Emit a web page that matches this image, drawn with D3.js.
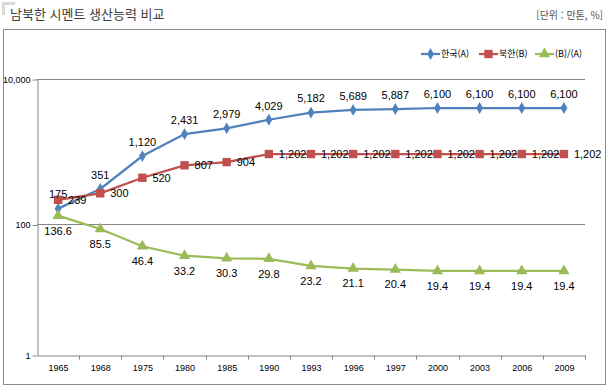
<!DOCTYPE html>
<html lang="ko">
<head>
  <meta charset="UTF-8" />
  <title>남북한 시멘트 생산능력 비교</title>
  <script src="https://d3js.org/d3.v7.min.js"></script>
  <style>
    body { margin: 0; background: #fff; }
    text { font-family: "Liberation Sans", "Noto Sans CJK KR", sans-serif; }
    .kr { font-family: "Noto Sans CJK KR", sans-serif; }
  </style>
</head>
<body>
<script>
  // data
  const years = ["1965", "1968", "1975", "1980", "1985", "1990", "1993", "1996", "1997", "2000", "2003", "2006", "2009"];
  const south = [175, 351, 1120, 2431, 2979, 4029, 5182, 5689, 5887, 6100, 6100, 6100, 6100];
  const north = [239, 300, 520, 807, 904, 1202, 1202, 1202, 1202, 1202, 1202, 1202, 1202];
  const ratio = [136.6, 85.5, 46.4, 33.2, 30.3, 29.8, 23.2, 21.1, 20.4, 19.4, 19.4, 19.4, 19.4];
  const yTicks = [1, 100, 10000];
  const seriesNames = ["한국(A)", "북한(B)", "(B)/(A)"];

  const W = 608, H = 389;
  const plot = { left: 37, right: 585, top: 79, bottom: 355 };

  const svg = d3.select("body").append("svg")
    .attr("width", W)
    .attr("height", H);

  // title area
  svg.append("path")
    .attr("d", "M2,15 V2 H15 V5 H5 V15 Z")
    .attr("fill", "#d9d9d9");
  svg.append("text")
    .attr("class", "kr")
    .attr("x", 10).attr("y", 19)
    .attr("font-size", 13)
    .attr("fill", "#3a3a3a")
    .text("남북한 시멘트 생산능력 비교");
  svg.append("text")
    .attr("class", "kr")
    .attr("x", 603).attr("y", 19)
    .attr("text-anchor", "end")
    .attr("font-size", 10)
    .attr("fill", "#555")
    .text("[단위 : 만톤, %]");

  // chart frame
  svg.append("rect")
    .attr("x", 3.5).attr("y", 29.5)
    .attr("width", 602).attr("height", 355)
    .attr("fill", "none")
    .attr("stroke", "#8c8c8c");

  const x = d3.scaleBand()
    .domain(years)
    .range([plot.left, plot.right])
    .padding(0);

  // log axis, stretched the way the original plot is
  const y = d3.scaleLog()
    .domain([1, 6100, 10000])
    .range([plot.bottom, 108, plot.top]);

  // gridlines
  svg.append("g")
    .selectAll("line")
    .data(yTicks.slice(1))
    .enter()
    .append("line")
    .attr("x1", plot.left).attr("x2", plot.right)
    .attr("y1", d => Math.round(y(d)) + 0.5)
    .attr("y2", d => Math.round(y(d)) + 0.5)
    .attr("stroke", "#868686");

  const yAxis = svg.append("g")
    .attr("transform", "translate(" + (plot.left + 0.5) + ",0.5)")
    .call(d3.axisLeft(y).tickValues(yTicks).tickFormat(d3.format(",")).tickSize(5).tickSizeOuter(0));
  yAxis.selectAll("text").attr("font-size", 9).attr("fill", "#000").attr("x", -7);

  const xAxis = svg.append("g")
    .attr("transform", "translate(0.5," + (plot.bottom + 0.5) + ")")
    .call(d3.axisBottom(x).tickSize(0).tickSizeOuter(0));
  xAxis.selectAll("text").attr("font-size", 9).attr("fill", "#000").attr("dy", "1.35em");
  // ticks between categories
  xAxis.selectAll(".sep")
    .data(years)
    .enter()
    .append("line")
    .attr("x1", d => Math.round(x(d) + x.bandwidth()))
    .attr("x2", d => Math.round(x(d) + x.bandwidth()))
    .attr("y1", 0).attr("y2", 4)
    .attr("stroke", "#868686");
  svg.selectAll(".domain").attr("stroke", "#868686");
  svg.selectAll(".tick line").attr("stroke", "#868686");

  const cx = d => x(d) + x.bandwidth() / 2;
  const colors = ["#4f81bd", "#c0504d", "#9bbb59"];
  const allSeries = [south, north, ratio];

  const line = d3.line()
    .x((d, i) => cx(years[i]))
    .y(d => y(d));

  allSeries.forEach(function (vals, k) {
    svg.append("path")
      .datum(vals)
      .attr("d", line)
      .attr("fill", "none")
      .attr("stroke", colors[k])
      .attr("stroke-width", 2.25);
  });

  const symbols = [
    d3.symbol().type(d3.symbolDiamond).size(40),
    d3.symbol().type(d3.symbolSquare).size(70),
    d3.symbol().type(d3.symbolTriangle).size(55)
  ];

  allSeries.forEach(function (vals, k) {
    svg.append("g")
      .selectAll("path")
      .data(vals)
      .enter()
      .append("path")
      .attr("d", symbols[k])
      .attr("transform", (d, i) => "translate(" + cx(years[i]) + "," + y(d) + ")")
      .attr("fill", colors[k]);
  });

  // data labels
  const fmt = d3.format(",");
  svg.append("g")
    .selectAll("text")
    .data(south)
    .enter()
    .append("text")
    .attr("x", (d, i) => cx(years[i]))
    .attr("y", d => y(d) - 14)
    .attr("dy", "0.35em")
    .attr("text-anchor", "middle")
    .attr("font-size", 11)
    .text(d => fmt(d));

  svg.append("g")
    .selectAll("text")
    .data(north)
    .enter()
    .append("text")
    .attr("x", (d, i) => cx(years[i]) + 10)
    .attr("y", d => y(d))
    .attr("dy", "0.35em")
    .attr("font-size", 11)
    .text(d => fmt(d));

  svg.append("g")
    .selectAll("text")
    .data(ratio)
    .enter()
    .append("text")
    .attr("x", (d, i) => cx(years[i]))
    .attr("y", d => y(d) + 15)
    .attr("dy", "0.35em")
    .attr("text-anchor", "middle")
    .attr("font-size", 11)
    .text(d => d3.format(".1f")(d));

  // legend
  const legendX = [421, 479, 535];
  const legend = svg.append("g").attr("transform", "translate(0,54)");
  seriesNames.forEach(function (name, k) {
    legend.append("line")
      .attr("x1", legendX[k]).attr("x2", legendX[k] + 19)
      .attr("stroke", colors[k])
      .attr("stroke-width", 2.25);
    legend.append("path")
      .attr("d", symbols[k])
      .attr("transform", "translate(" + (legendX[k] + 9.5) + ",0)")
      .attr("fill", colors[k]);
    legend.append("text")
      .attr("class", "kr")
      .attr("x", legendX[k] + 20)
      .attr("dy", "0.35em")
      .attr("font-size", 9)
      .text(name);
  });
</script>
</body>
</html>
